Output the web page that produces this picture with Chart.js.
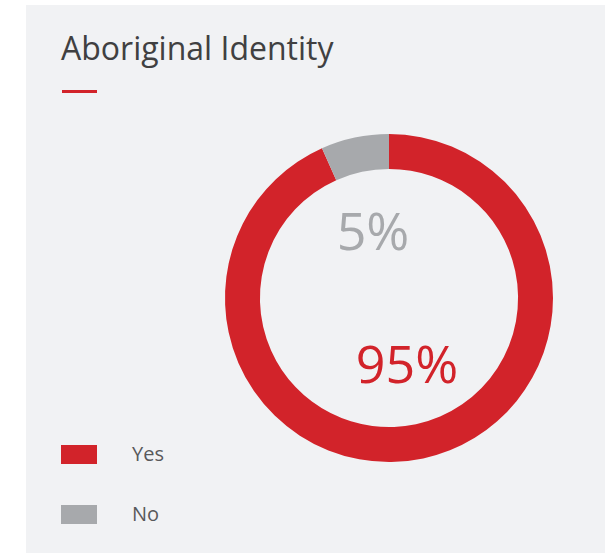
<!DOCTYPE html>
<html>
<head>
<meta charset="utf-8">
<script src="https://cdn.jsdelivr.net/npm/chart.js@4"></script>
<style>
  html, body { margin: 0; padding: 0; background: #ffffff; }
  body { width: 605px; height: 553px; position: relative; overflow: hidden; font-family: "Open Sans", sans-serif; }
  #panel { position: absolute; left: 26px; top: 5px; width: 579px; height: 548px; background: #f1f2f4; }
  #title { position: absolute; left: 61px; top: 26px; margin: 0; font-size: 32px; font-weight: 400; color: #404041; line-height: 44px; white-space: nowrap; }
  #rule { position: absolute; left: 62px; top: 90px; width: 35px; height: 3px; background: #d2232a; }
  #legend { position: absolute; left: 61px; top: 445px; }
  .item { position: relative; height: 60px; }
  .swatch { position: absolute; left: 0; top: 0; width: 36px; height: 19px; }
  .label { position: absolute; left: 71px; top: -5px; font-size: 20px; color: #58595b; line-height: 28px; }
  #chartWrap { position: absolute; left: 0; top: 0; width: 605px; height: 553px; }
</style>
</head>
<body>
<div id="panel"></div>
<h2 id="title">Aboriginal Identity</h2>
<div id="rule"></div>
<div id="legend"></div>
<div id="chartWrap"><canvas id="identityChart"></canvas></div>

<script>
/* ===== Data ===== */
const categories = ["Yes", "No"];
const shares = [93.3, 6.7];          // slice sizes as drawn
const shareLabels = ["95%", "5%"];   // printed labels
const colours = ["#d2232a", "#a7a9ac"];

/* ===== HTML legend ===== */
function buildLegend() {
  const legend = document.getElementById("legend");
  categories.forEach((c, i) => {
    const item = document.createElement("div");
    item.className = "item";
    item.innerHTML = `<div class="swatch" style="background:${colours[i]}"></div><div class="label">${c}</div>`;
    legend.appendChild(item);
  });
}

/* ===== Percentage labels inside the ring ===== */
const pctLabels = {
  id: "pctLabels",
  afterDatasetsDraw(chart) {
    const arc = chart.getDatasetMeta(0).data[0];
    const cx = arc.x, cy = arc.y;
    const ctx = chart.ctx;
    ctx.save();
    ctx.font = '52px "Open Sans", sans-serif';
    ctx.textAlign = "center";
    ctx.textBaseline = "alphabetic";
    // No
    ctx.fillStyle = colours[1];
    ctx.fillText(shareLabels[1], cx - 16, cy - 48);
    // Yes
    ctx.fillStyle = colours[0];
    ctx.fillText(shareLabels[0], cx + 18, cy + 85);
    ctx.restore();
  }
};

/* ===== Chart ===== */
function drawChart() {
  const ctx = document.getElementById("identityChart").getContext("2d");
  new Chart(ctx, {
    type: "doughnut",
    data: {
      labels: categories,
      datasets: [{
        data: shares,
        backgroundColor: colours,
        borderWidth: 0,
        hoverOffset: 0
      }]
    },
    options: {
      responsive: true,
      maintainAspectRatio: false,
      animation: false,
      cutout: "78.7%",
      layout: { padding: { left: 225, right: 52, top: 134, bottom: 91 } },
      plugins: {
        legend: { display: false },
        tooltip: { enabled: false }
      }
    },
    plugins: [pctLabels]
  });
}

buildLegend();
drawChart();
</script>
</body>
</html>
